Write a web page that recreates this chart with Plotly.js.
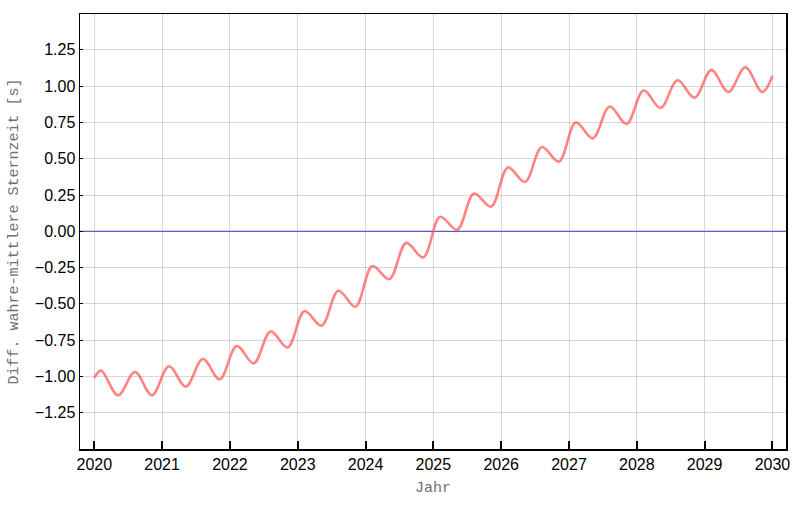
<!DOCTYPE html>
<html>
<head>
<meta charset="utf-8">
<script src="https://cdn.plot.ly/plotly-3.0.1.min.js"></script>
<style>
  html, body { margin: 0; padding: 0; background: #ffffff; }
  #chart { width: 800px; height: 510px; }
</style>
</head>
<body>
<div id="chart"></div>
<script>
const jahre = [
  2020.00, 2020.10, 2020.35, 2020.60, 2020.85,
  2021.10, 2021.35, 2021.60, 2021.85,
  2022.10, 2022.35, 2022.60, 2022.85,
  2023.10, 2023.35, 2023.60, 2023.85,
  2024.10, 2024.35, 2024.60, 2024.85,
  2025.10, 2025.35, 2025.60, 2025.85,
  2026.10, 2026.35, 2026.60, 2026.85,
  2027.10, 2027.35, 2027.60, 2027.85,
  2028.10, 2028.35, 2028.60, 2028.85,
  2029.10, 2029.35, 2029.60, 2029.85, 2030.00
];

// Differenz wahre - mittlere Sternzeit in Sekunden
const diffSek = [
  -1.01, -0.96, -1.13, -0.97, -1.13,
  -0.93, -1.07, -0.88, -1.02,
  -0.79, -0.91, -0.69, -0.80,
  -0.55, -0.65, -0.41, -0.52,
  -0.24, -0.33, -0.08, -0.18,
   0.10,  0.01,  0.26,  0.17,
   0.44,  0.34,  0.58,  0.48,
   0.75,  0.64,  0.86,  0.74,
   0.97,  0.85,  1.04,  0.92,
   1.11,  0.96,  1.13,  0.96,  1.07
];

const xTicks = [2020, 2021, 2022, 2023, 2024, 2025, 2026, 2027, 2028, 2029, 2030];
const yTicks = [-1.25, -1.00, -0.75, -0.50, -0.25, 0.00, 0.25, 0.50, 0.75, 1.00, 1.25];

const kurve = {
  x: jahre,
  y: diffSek,
  type: 'scatter',
  mode: 'lines',
  line: { color: 'rgba(255, 80, 80, 0.7)', width: 2.6, shape: 'spline', smoothing: 1.0 },
  hoverinfo: 'x+y'
};

const nulllinie = {
  x: [2019.789, 2030.2],
  y: [0, 0],
  type: 'scatter',
  mode: 'lines',
  line: { color: '#5a5acc', width: 1.2 },
  hoverinfo: 'skip'
};

const tickFont = { family: 'Liberation Sans, Arial, sans-serif', size: 16, color: '#000' };
const titleFont = { family: 'Liberation Mono, Courier New, monospace', size: 15, color: '#707070' };

const layout = {
  width: 800,
  height: 510,
  margin: { l: 80, r: 14, t: 14, b: 61 },
  paper_bgcolor: '#ffffff',
  plot_bgcolor: '#ffffff',
  showlegend: false,
  xaxis: {
    range: [2019.789, 2030.2],
    tickvals: xTicks,
    ticktext: xTicks.map(String),
    ticks: 'inside',
    ticklen: 8,
    tickwidth: 2,
    tickcolor: '#000',
    showline: true,
    linecolor: '#000',
    linewidth: 1.5,
    mirror: true,
    showgrid: true,
    gridcolor: 'rgba(0,0,0,0.15)',
    gridwidth: 1,
    zeroline: false,
    tickfont: tickFont,
    title: { text: 'Jahr', font: titleFont, standoff: 10 }
  },
  yaxis: {
    range: [-1.5, 1.497],
    tickvals: yTicks,
    ticktext: yTicks.map(v => (v < 0 ? '\u2212' : '') + Math.abs(v).toFixed(2)),
    ticks: 'inside',
    ticklen: 3,
    tickwidth: 1,
    tickcolor: '#000',
    showline: true,
    linecolor: '#000',
    linewidth: 1.5,
    mirror: true,
    showgrid: true,
    gridcolor: 'rgba(0,0,0,0.15)',
    gridwidth: 1,
    zeroline: false,
    tickfont: tickFont,
    title: { text: 'Diff. wahre-mittlere Sternzeit [s]', font: titleFont, standoff: 12 }
  }
};

Plotly.newPlot('chart', [nulllinie, kurve], layout, { displayModeBar: false, staticPlot: true });
</script>
</body>
</html>
